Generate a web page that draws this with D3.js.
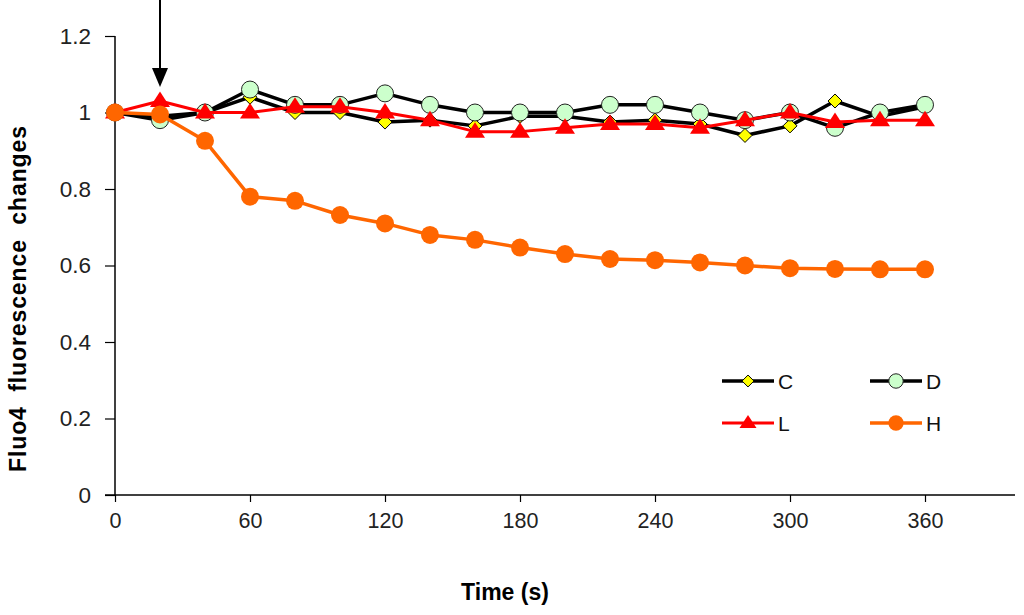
<!DOCTYPE html>
<html>
<head>
<meta charset="utf-8">
<script src="https://cdn.jsdelivr.net/npm/d3@7"></script>
<style>
  html, body { margin: 0; padding: 0; background: #fff; }
  svg { display: block; font-family: "Liberation Sans", Arial, sans-serif; }
</style>
</head>
<body>
<svg id="chart" width="1024" height="615"></svg>
<script>
const times = [0, 20, 40, 60, 80, 100, 120, 140, 160, 180, 200, 220, 240, 260, 280, 300, 320, 340, 360];
const seriesC = [1.0, 0.99, 1.0, 1.04, 1.0, 1.0, 0.975, 0.98, 0.965, 0.99, 0.99, 0.975, 0.98, 0.97, 0.94, 0.965, 1.03, 0.99, 1.015];
const seriesD = [1.0, 0.98, 1.0, 1.06, 1.02, 1.02, 1.05, 1.02, 1.0, 1.0, 1.0, 1.02, 1.02, 1.0, 0.98, 1.0, 0.96, 1.0, 1.02];
const seriesL = [1.0, 1.03, 1.0, 1.0, 1.015, 1.015, 1.0, 0.98, 0.95, 0.95, 0.96, 0.97, 0.97, 0.96, 0.98, 1.0, 0.975, 0.98, 0.98];
const seriesH = [1.0, 0.995, 0.926, 0.78, 0.769, 0.732, 0.71, 0.68, 0.667, 0.647, 0.63, 0.617, 0.614, 0.608, 0.6, 0.593, 0.591, 0.59, 0.59];
const xTicks = [0, 60, 120, 180, 240, 300, 360];
const yTicks = [0, 0.2, 0.4, 0.6, 0.8, 1, 1.2];
const seriesNames = ["C", "D", "L", "H"];
const arrowTime = 20;

const svg = d3.select("#chart");
const x = d3.scaleLinear().domain([0, 400]).range([115, 1015]);
const y = d3.scaleLinear().domain([0, 1.2]).range([495, 36]);

const styles = {
  C: { line: "#000", width: 3.5, marker: "diamond", fill: "#FFFF00", stroke: "#000", size: 7 },
  D: { line: "#000", width: 3.5, marker: "circle", fill: "#CCFFCC", stroke: "#222", size: 8.5 },
  L: { line: "#FF0000", width: 3, marker: "triangle", fill: "#FF0000", stroke: "none", size: 10 },
  H: { line: "#FF6600", width: 3.5, marker: "circle", fill: "#FF6600", stroke: "none", size: 9 }
};
const data = { C: seriesC, D: seriesD, L: seriesL, H: seriesH };

// Axes
const xAxis = d3.axisBottom(x).tickValues(xTicks).tickSize(7).tickSizeOuter(0).tickFormat(d3.format("d"));
const gx = svg.append("g").attr("transform", "translate(0,495)").call(xAxis);
gx.select(".domain").attr("stroke", "#000").attr("stroke-width", 1.5).attr("d", "M105,0H1015");
gx.selectAll(".tick line").attr("stroke", "#000").attr("stroke-width", 1.2);
gx.selectAll(".tick text").attr("font-size", 21.5).attr("fill", "#222").attr("dy", "1.05em")
  .attr("font-family", "'Liberation Sans', Arial, sans-serif");

const yAxis = d3.axisLeft(y).tickValues(yTicks).tickSize(10).tickSizeOuter(0).tickFormat(d => d3.format("~g")(d));
const gy = svg.append("g").attr("transform", "translate(115,0)").call(yAxis);
gy.select(".domain").attr("stroke", "#000").attr("stroke-width", 1.5).attr("d", "M0,36V495");
gy.selectAll(".tick line").attr("stroke", "#000").attr("stroke-width", 1.2);
gy.selectAll(".tick text").attr("font-size", 22.5).attr("fill", "#222").attr("x", -24)
  .attr("font-family", "'Liberation Sans', Arial, sans-serif");

// Axis titles
svg.append("text").attr("x", 505).attr("y", 600).attr("text-anchor", "middle")
  .attr("font-size", 23).attr("font-weight", "bold").text("Time (s)");
svg.append("text").attr("transform", "translate(26,299) rotate(-90)").attr("text-anchor", "middle")
  .attr("font-size", 23).attr("font-weight", "bold").attr("xml:space", "preserve")
  .attr("textLength", 346).attr("lengthAdjust", "spacing")
  .style("white-space", "pre").text("Fluo4  fluorescence  changes");

function markerPath(type, s) {
  if (type === "diamond") return `M0,${-s}L${s},0L0,${s}L${-s},0Z`;
  if (type === "triangle") return `M0,${-s * 0.95}L${s},${s * 0.6}L${-s},${s * 0.6}Z`;
  return null;
}
function drawMarker(g, type, st, cx, cy, sizeScale) {
  const s = st.size * (sizeScale || 1);
  if (type === "circle") {
    g.append("circle").attr("cx", cx).attr("cy", cy).attr("r", s)
      .attr("fill", st.fill).attr("stroke", st.stroke).attr("stroke-width", st.stroke === "none" ? 0 : 1);
  } else {
    g.append("path").attr("transform", `translate(${cx},${cy})`).attr("d", markerPath(type, s))
      .attr("fill", st.fill).attr("stroke", st.stroke).attr("stroke-width", st.stroke === "none" ? 0 : 1);
  }
}

const line = d3.line().x((d, i) => x(times[i])).y(d => y(d));
seriesNames.forEach(name => {
  const st = styles[name];
  const g = svg.append("g");
  g.append("path").datum(data[name]).attr("d", line).attr("fill", "none")
    .attr("stroke", st.line).attr("stroke-width", st.width).attr("stroke-linejoin", "round");
  data[name].forEach((v, i) => drawMarker(g, st.marker, st, x(times[i]), y(v)));
});

// Arrow
const ax = x(arrowTime);
svg.append("line").attr("x1", ax).attr("x2", ax).attr("y1", 0).attr("y2", 70)
  .attr("stroke", "#000").attr("stroke-width", 2);
svg.append("path").attr("d", `M${ax - 8},68L${ax + 8},68L${ax},87Z`).attr("fill", "#000");

// Legend
const legendItems = [
  { name: "C", lx: 722, ly: 381 },
  { name: "D", lx: 870, ly: 381 },
  { name: "L", lx: 722, ly: 423 },
  { name: "H", lx: 870, ly: 423 }
];
legendItems.forEach(it => {
  const st = styles[it.name];
  const g = svg.append("g");
  g.append("line").attr("x1", it.lx).attr("x2", it.lx + 52).attr("y1", it.ly).attr("y2", it.ly)
    .attr("stroke", st.line).attr("stroke-width", st.width);
  drawMarker(g, st.marker, st, it.lx + 26, it.ly, 0.85);
  g.append("text").attr("x", it.lx + 56).attr("y", it.ly + 7.5).attr("font-size", 21)
    .attr("fill", "#111").text(it.name);
});
</script>
</body>
</html>
